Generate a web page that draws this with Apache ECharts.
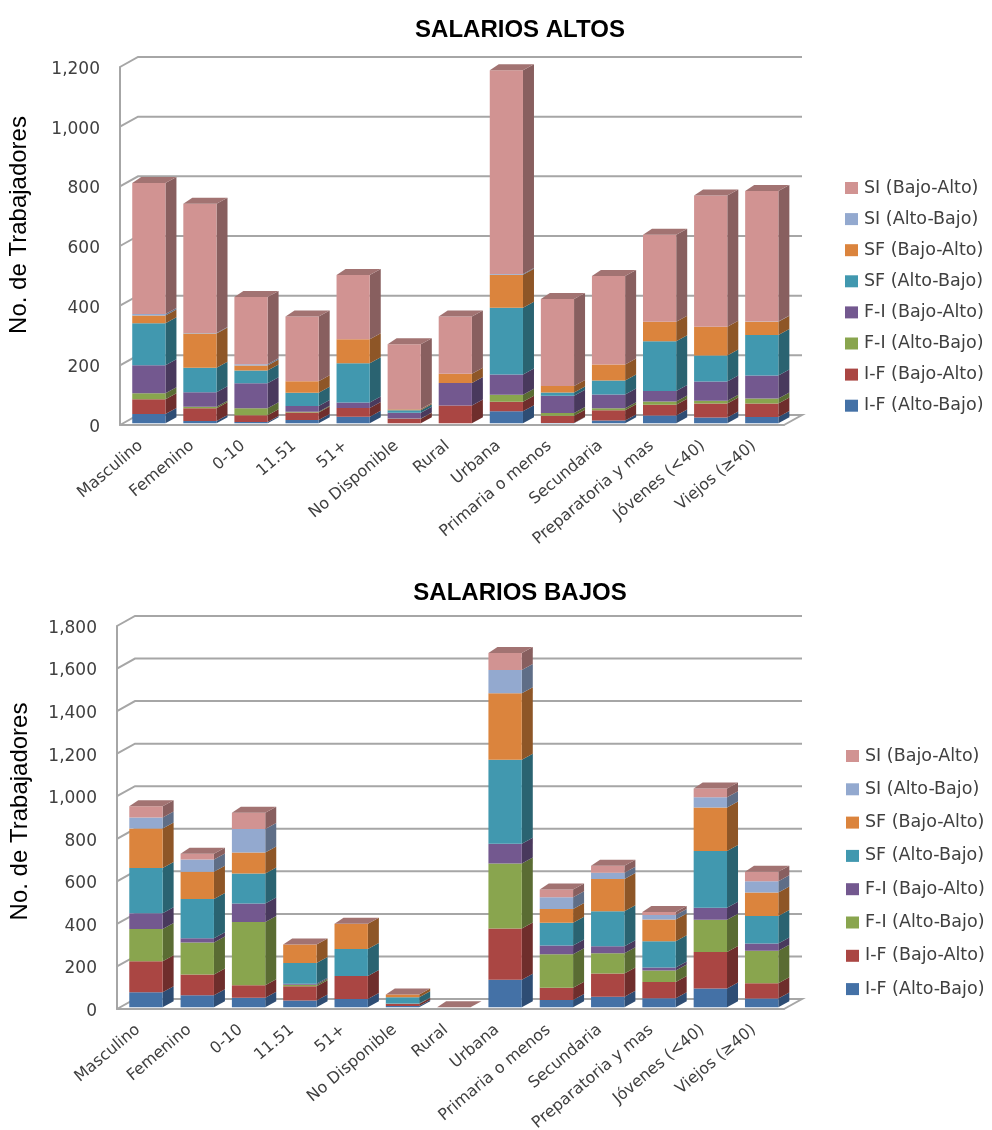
<!DOCTYPE html>
<html>
<head>
<meta charset="utf-8">
<script src="https://cdn.jsdelivr.net/npm/echarts@6/dist/echarts.min.js"></script>
<style>html,body{margin:0;padding:0;background:#fff}#c{width:992px;height:1130px}</style>
</head>
<body>
<div id="c"></div>
<script>
const categories = ['Masculino','Femenino','0-10','11.51','51+','No Disponible','Rural','Urbana','Primaria o menos','Secundaria','Preparatoria y mas','Jóvenes (<40)','Viejos (≥40)'];
const seriesNames = ['I-F (Alto-Bajo)','I-F (Bajo-Alto)','F-I (Alto-Bajo)','F-I (Bajo-Alto)','SF (Alto-Bajo)','SF (Bajo-Alto)','SI (Alto-Bajo)','SI (Bajo-Alto)'];
const yTicksAltos = [0,200,400,600,800,1000,1200];
const yTicksBajos = [0,200,400,600,800,1000,1200,1400,1600,1800];

// SALARIOS ALTOS
const altosIFAB = [31,7,4,11,22,0,0,40,1,9,26,19,21];
const altosIFBA = [49,43,23,25,29,15,59,32,24,34,36,47,45];
const altosFIAB = [20,5,23,2,0,1,0,23,9,7,11,9,17];
const altosFIBA = [94,49,84,20,18,19,76,68,58,46,35,65,77];
const altosSFAB = [141,82,43,44,132,8,0,224,11,47,167,87,136];
const altosSFBA = [26,115,16,39,80,4,31,111,22,54,65,96,44];
const altosSIAB = [5,1,5,0,0,1,0,2,0,0,0,0,1];
const altosSIBA = [439,434,225,217,216,217,192,683,291,296,292,440,437];

// SALARIOS BAJOS
const bajosIFAB = [70,56,45,31,39,6,0,129,34,49,42,88,41];
const bajosIFBA = [146,98,58,68,108,9,0,241,57,109,77,171,72];
const bajosFIAB = [152,150,298,6,0,1,0,305,158,96,53,152,152];
const bajosFIBA = [74,20,86,5,0,1,0,93,41,33,15,56,34];
const bajosSFAB = [212,184,141,98,126,30,0,395,107,164,123,267,130];
const bajosSFBA = [186,128,99,87,119,13,0,313,64,151,102,205,110];
const bajosSIAB = [52,58,110,0,0,0,0,109,56,30,21,48,53];
const bajosSIBA = [52,27,77,0,0,0,0,80,36,33,15,41,44];

const altos = [altosIFAB,altosIFBA,altosFIAB,altosFIBA,altosSFAB,altosSFBA,altosSIAB,altosSIBA];
const bajos = [bajosIFAB,bajosIFBA,bajosFIAB,bajosFIBA,bajosSFAB,bajosSFBA,bajosSIAB,bajosSIBA];

const frontColors = ['#4471A6','#AA4643','#89A54E','#73588F','#4198AF','#DB843D','#93A9CF','#D19392'];
const sideColors  = ['#2E4D74','#6F2E2C','#5A6C33','#49395D','#2A6371','#8E5627','#5F6E87','#885F5F'];
const topColor = '#A27372';
const wallColor = '#A6A6A6';
const textColor = '#404040';
const DX = 11, DY = 6, BAR_SHIFT_X = 3.3, BAR_SHIFT_Y = 1.8, BACK_X = 18, BACK_Y = 10;

function barRender(si){
  return function(params, api){
    const c = api.value(0);
    const a = api.coord([c, api.value(1)]);
    const b = api.coord([c, api.value(2)]);
    const w = api.size([1,0])[0] * 0.65;
    const l = a[0] - w/2 + BAR_SHIFT_X, r = l + w;
    const y0 = a[1] - BAR_SHIFT_Y, y1 = b[1] - BAR_SHIFT_Y;
    const kids = [];
    if (y0 - y1 > 0.01) {
      kids.push({type:'polygon',shape:{points:[[r,y0],[r+DX,y0-DY],[r+DX,y1-DY],[r,y1]]},style:{fill:sideColors[si]}});
      kids.push({type:'rect',shape:{x:l,y:y1,width:w,height:y0-y1},style:{fill:frontColors[si]}});
    }
    if (si === 7) {
      kids.push({type:'polygon',shape:{points:[[l,y1],[l+DX-2,y1-DY],[r+DX,y1-DY],[r,y1]]},style:{fill:topColor}});
    }
    return {type:'group',children:kids};
  };
}
function wallRender(params, api){
  const v = api.value(1);
  const y = api.coord([0,v])[1];
  const g = params.coordSys;
  const x0 = g.x, x1 = g.x + g.width;
  const pts = [[x0,y],[x0+BACK_X,y-BACK_Y],[x1+BACK_X,y-BACK_Y]];
  if (v === 0) pts.push([x1,y]);
  return {type:'polyline',shape:{points:pts},style:{fill:null,stroke:wallColor,lineWidth:2}};
}

const xAxes = [], yAxes = [], grids = [], series = [];
function addChart(idx, box, maxV, ticks, data){
  grids.push(box);
  xAxes.push({type:'category',gridIndex:idx,data:categories,
    axisTick:{show:false},
    axisLine:{show:true,lineStyle:{color:wallColor,width:2}},
    axisLabel:{interval:0,rotate:40,margin:15,color:textColor,fontFamily:'DejaVu Sans',fontSize:16,padding:[0,6,0,0],hideOverlap:false}});
  yAxes.push({type:'value',gridIndex:idx,min:0,max:maxV,interval:200,
    name:'No. de Trabajadores',nameLocation:'middle',nameGap:idx?85:89,
    nameTextStyle:{fontFamily:'Liberation Sans',fontSize:24,color:'#000',padding:[0,0,0,idx?12:42]},
    axisTick:{show:false},splitLine:{show:false},
    axisLine:{show:true,lineStyle:{color:wallColor,width:2}},
    axisLabel:{margin:20,color:textColor,fontFamily:'DejaVu Sans',fontSize:17,verticalAlign:'top',padding:[-6,0,0,0]}});
  series.push({type:'custom',name:'walls'+idx,xAxisIndex:idx,yAxisIndex:idx,z:1,silent:true,
    clip:false,renderItem:wallRender,encode:{x:0,y:1},data:ticks.map(t=>[0,t])});
  data.forEach((vals,si)=>{
    const stacked = vals.map((v,c)=>{
      let s = 0; for(let k=0;k<si;k++) s += data[k][c];
      return [c,s,s+v];
    });
    series.push({type:'custom',name:seriesNames[si],xAxisIndex:idx,yAxisIndex:idx,z:2+si,silent:true,clip:false,
      itemStyle:{color:frontColors[si]},renderItem:barRender(si),encode:{x:0,y:[1,2]},data:stacked});
  });
}
addChart(0,{left:120,top:67,width:664,height:358,outerBoundsMode:'none'},1200,yTicksAltos,altos);
addChart(1,{left:117,top:626,width:667,height:383,outerBoundsMode:'none'},1800,yTicksBajos,bajos);

const legendNames = seriesNames.slice().reverse();
const legendBase = {orient:'vertical',data:legendNames,icon:'rect',itemWidth:13,itemHeight:12,selectedMode:false,
  textStyle:{fontFamily:'DejaVu Sans',fontSize:17.5,color:textColor,padding:[0,0,0,1]}};

const chart = echarts.init(document.getElementById('c'),null,{renderer:'canvas'});
chart.setOption({
  animation:false,
  backgroundColor:'#fff',
  title:[
    {text:'SALARIOS ALTOS',left:515,top:13,textAlign:'center',textStyle:{fontFamily:'Liberation Sans',fontWeight:'bold',fontSize:24,color:'#000'}},
    {text:'SALARIOS BAJOS',left:515,top:576,textAlign:'center',textStyle:{fontFamily:'Liberation Sans',fontWeight:'bold',fontSize:24,color:'#000'}}
  ],
  legend:[
    Object.assign({},legendBase,{left:840,top:174,itemGap:13.1}),
    Object.assign({},legendBase,{left:841,top:742,itemGap:15.3})
  ],
  grid:grids,xAxis:xAxes,yAxis:yAxes,series:series
});
</script>
</body>
</html>
